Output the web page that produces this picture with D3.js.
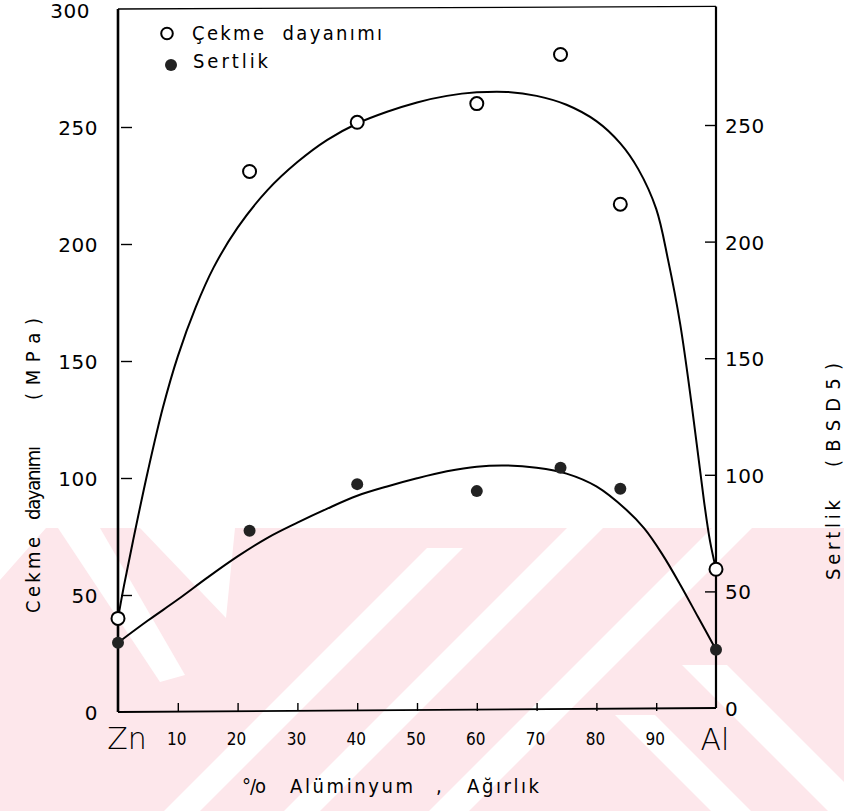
<!DOCTYPE html>
<html lang="tr">
  <head>
    <meta charset="UTF-8" />
    <title>Zn-Al</title>
    <script src="https://cdn.jsdelivr.net/npm/d3@7"></script>
    <style>
      body { margin: 0; background: #fff; }
      text { font-family: "DejaVu Sans", sans-serif; fill: #000; }
      .cond { font-family: "DejaVu Sans Condensed", "DejaVu Sans", sans-serif; }
    </style>
  </head>
  <body>
    <svg width="844" height="811"></svg>
  </body>

  <script>
    // olculen noktalar (% Al, agirlik)
    var alPct = [0, 22, 40, 60, 74, 84, 100];
    var cekme = [40, 231, 252, 260, 281, 217, 61]; // MPa, sol eksen
    var sertlik = [28, 76, 96, 93, 103, 94, 25]; // BSD5, sag eksen

    // elle cizilmis egriler
    var cekmeFitX = [0, 1, 2.5, 5, 7.5, 10, 13, 16, 20, 25, 30, 35, 40, 45, 50, 55, 60, 65, 70, 75, 80, 84, 87, 90, 92, 94, 96, 98, 99, 100];
    var cekmeFitY = [40, 54, 73, 103, 130, 152, 173, 190, 207, 223, 235, 244.5, 251.5, 256.5, 260.5, 263.3, 264.8, 265, 263.3, 259.5, 252.5, 243, 232, 215, 193, 166, 130, 90, 73, 61];
    var sertFitX = [0, 5, 10, 15, 20, 25, 30, 35, 40, 45, 50, 55, 60, 65, 70, 75, 80, 85, 88, 91, 94, 97, 100];
    var sertFitY = [28, 37.5, 46.5, 56, 65, 73, 79.5, 85.5, 91, 95, 98.5, 101.5, 103.5, 104, 103, 100.5, 95, 85, 77, 66, 53, 39, 25];

    var xTicks = [10, 20, 30, 40, 50, 60, 70, 80, 90];
    var yTicksL = [0, 50, 100, 150, 200, 250, 300];
    var yTicksR = [0, 50, 100, 150, 200, 250];

    var svg = d3.select('svg');

    // arka plandaki pembe filigran (taranmis sayfadan)
    var wm = svg.append('g');
    var pink = '#fde7eb';
    wm.append('path').attr('d', 'M46,528 L844,528 L844,811 L0,811 L0,580 Z').attr('fill', pink);
    function band(c, w, y0, y1, dir) {
      // dir 1: "/" seridi (x+y=c), dir -1: "\" seridi (x-y=c)
      var xa = dir > 0 ? c - y0 : c + y0;
      var xb = dir > 0 ? c - y1 : c + y1;
      wm.append('path')
        .attr('d', 'M' + xa + ',' + y0 + ' L' + (xa + w) + ',' + y0 + ' L' + (xb + w) + ',' + y1 + ' L' + xb + ',' + y1 + ' Z')
        .attr('fill', '#fff');
    }
    band(975, 36, 548, 811, 1);
    band(1095, 36, 528, 811, 1);
    band(1240, 40, 528, 811, 1);
    band(-100, 40, 715, 811, -1);
    band(17, 45, 665, 811, -1);
    wm.append('path').attr('d', 'M58,528 L100,528 L185,675 L160,682 Z').attr('fill', '#fff');
    wm.append('path').attr('d', 'M140,528 L235,528 L226,618 Z').attr('fill', '#fff');

    // olcekler
    var x = d3.scaleLinear().domain([0, 100]).range([118, 716]);
    var yL = d3.scaleLinear().domain([0, 300]).range([712, 10]);
    var yR = d3.scaleLinear().domain([0, 300]).range([708, 8.4]);

    // eksen cizgileri (ic tikler)
    var axisL = d3.axisRight(yL).tickValues(yTicksL).tickSize(11).tickFormat('');
    var gL = svg.append('g').attr('transform', 'translate(' + (x(0) + 3) + ',0)').call(axisL);
    gL.select('.domain').remove();
    gL.selectAll('.tick').filter(function (d) { return d === 0 || d === 300; }).remove();

    var axisR = d3.axisLeft(yR).tickValues(yTicksR).tickSize(11).tickFormat('');
    var gR = svg.append('g').attr('transform', 'translate(' + x(100) + ',0)').call(axisR);
    gR.select('.domain').remove();
    gR.selectAll('.tick').filter(function (d) { return d === 0; }).remove();

    var axisB = d3.axisTop(x).tickValues(xTicks).tickSize(8).tickFormat('');
    var gB = svg.append('g').attr('transform', 'translate(0,' + (yL(0) - 1) + ')').call(axisB);
    gB.select('.domain').remove();
    svg.selectAll('.tick line').attr('stroke', '#000').attr('stroke-width', 1.4);

    // cerceve
    svg.append('line').attr('x1', x(0)).attr('x2', x(0)).attr('y1', yL(0)).attr('y2', yL(300) - 1)
      .attr('stroke', '#000').attr('stroke-width', 2.6);
    svg.append('line').attr('x1', x(100)).attr('x2', x(100)).attr('y1', yR(0)).attr('y2', yR(300) - 2)
      .attr('stroke', '#000').attr('stroke-width', 2.2);
    svg.append('line').attr('x1', x(0)).attr('x2', x(100)).attr('y1', yL(0)).attr('y2', yR(0))
      .attr('stroke', '#000').attr('stroke-width', 1.8);
    svg.append('line').attr('x1', x(0)).attr('x2', x(100)).attr('y1', yL(300) - 1).attr('y2', yR(300) - 2)
      .attr('stroke', '#000').attr('stroke-width', 1.3);

    // tik etiketleri
    svg.selectAll('.ylab').data(yTicksL).enter().append('text')
      .attr('x', function (d) { return d === 300 ? 90 : 98; })
      .attr('y', function (d) { return yL(d) + 7.5; })
      .attr('text-anchor', 'end').attr('font-size', 20).attr('letter-spacing', 0.5)
      .text(function (d) { return d; });
    svg.selectAll('.yrlab').data(yTicksR).enter().append('text')
      .attr('x', 725).attr('y', function (d) { return yR(d) + 8; })
      .attr('font-size', 20).attr('letter-spacing', 0.5)
      .text(function (d) { return d; });
    svg.selectAll('.xlab').data(xTicks).enter().append('text')
      .attr('class', 'cond')
      .attr('x', function (d) { return x(d) - 1; }).attr('y', 745)
      .attr('text-anchor', 'middle').attr('font-size', 17)
      .text(function (d) { return d; });
    svg.append('text').attr('x', 127).attr('y', 749).attr('text-anchor', 'middle')
      .attr('font-size', 30).attr('font-weight', 200).text('Zn');
    svg.append('text').attr('x', 715).attr('y', 750).attr('text-anchor', 'middle')
      .attr('font-size', 30).attr('font-weight', 200).text('Al');

    // eksen basliklari, parcalar ayri konumlanir
    function vtext(cx, cy, len, str) {
      svg.append('text').attr('class', 'cond')
        .attr('transform', 'translate(' + cx + ',' + cy + ') rotate(-90)')
        .attr('x', -len / 2).attr('font-size', 20)
        .attr('textLength', len).attr('lengthAdjust', 'spacing')
        .attr('xml:space', 'preserve')
        .text(str);
    }
    vtext(40, 575, 76, 'Cekme');
    vtext(40, 483, 74, 'dayanımı');
    vtext(40, 359, 82, '( M P a )');
    vtext(840, 540, 80, 'Sertlik');
    vtext(840, 415, 104, '( B S D 5 )');

    function htext(x0, len, str) {
      svg.append('text').attr('class', 'cond')
        .attr('x', x0).attr('y', 793).attr('font-size', 20)
        .attr('textLength', len).attr('lengthAdjust', 'spacing')
        .text(str);
    }
    htext(242, 24, '°/o');
    htext(290, 123, 'Alüminyum');
    htext(436, 5, ',');
    htext(467, 72, 'Ağırlık');

    // egriler
    var lineL = d3.line()
      .x(function (d) { return x(d[0]); })
      .y(function (d) { return yL(d[1]); })
      .curve(d3.curveCatmullRom);
    var lineR = d3.line()
      .x(function (d) { return x(d[0]); })
      .y(function (d) { return yR(d[1]); })
      .curve(d3.curveCatmullRom);

    svg.append('path').datum(d3.zip(cekmeFitX, cekmeFitY))
      .attr('d', lineL).attr('fill', 'none').attr('stroke', '#000').attr('stroke-width', 2);
    svg.append('path').datum(d3.zip(sertFitX, sertFitY))
      .attr('d', lineR).attr('fill', 'none').attr('stroke', '#000').attr('stroke-width', 2);

    // noktalar
    svg.selectAll('.pc').data(d3.zip(alPct, cekme)).enter().append('circle')
      .attr('cx', function (d) { return x(d[0]); })
      .attr('cy', function (d) { return yL(d[1]); })
      .attr('r', 6.5).attr('fill', '#fff').attr('stroke', '#000').attr('stroke-width', 2);
    svg.selectAll('.ps').data(d3.zip(alPct, sertlik)).enter().append('circle')
      .attr('cx', function (d) { return x(d[0]); })
      .attr('cy', function (d) { return yR(d[1]); })
      .attr('r', 6).attr('fill', '#222');

    // lejant
    svg.append('circle').attr('cx', 167).attr('cy', 33.5).attr('r', 5.8)
      .attr('fill', '#fff').attr('stroke', '#000').attr('stroke-width', 2);
    svg.append('text').attr('class', 'cond').attr('x', 192).attr('y', 40).attr('font-size', 20)
      .attr('textLength', 190).attr('lengthAdjust', 'spacing')
      .attr('xml:space', 'preserve').text('Çekme  dayanımı');
    svg.append('circle').attr('cx', 171).attr('cy', 65).attr('r', 6).attr('fill', '#222');
    svg.append('text').attr('class', 'cond').attr('x', 193).attr('y', 68).attr('font-size', 20)
      .attr('textLength', 75).attr('lengthAdjust', 'spacing')
      .text('Sertlik');
  </script>
</html>
